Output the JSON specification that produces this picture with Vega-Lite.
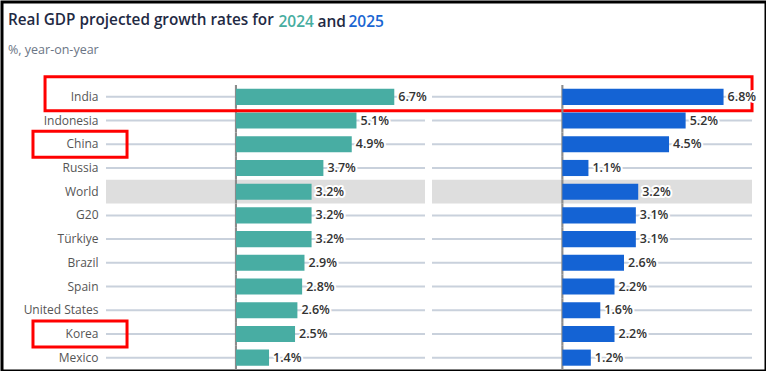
{
  "$schema": "https://vega.github.io/schema/vega-lite/v6.json",
  "autosize": "none",
  "padding": {"left": 2, "top": 2, "right": 0, "bottom": 0},
  "width": 764,
  "height": 369,
  "background": "white",
  "config": {
    "font": "Open Sans",
    "view": {"stroke": "black", "strokeWidth": 3}
  },
  "title": {
    "text": "Real GDP projected growth rates for",
    "subtitle": "%, year-on-year",
    "anchor": "start",
    "frame": "group",
    "offset": -54,
    "dx": 6,
    "font": "Open Sans",
    "fontSize": 15.3,
    "fontWeight": 600,
    "color": "#1f2a44",
    "subtitleFont": "Open Sans",
    "subtitleFontSize": 12.5,
    "subtitleColor": "#6b7585",
    "subtitlePadding": 15.5
  },
  "data": {
    "values": [
      {"country": "India", "y2024": 6.7, "y2025": 6.8},
      {"country": "Indonesia", "y2024": 5.1, "y2025": 5.2},
      {"country": "China", "y2024": 4.9, "y2025": 4.5},
      {"country": "Russia", "y2024": 3.7, "y2025": 1.1},
      {"country": "World", "y2024": 3.2, "y2025": 3.2},
      {"country": "G20", "y2024": 3.2, "y2025": 3.1},
      {"country": "Türkiye", "y2024": 3.2, "y2025": 3.1},
      {"country": "Brazil", "y2024": 2.9, "y2025": 2.6},
      {"country": "Spain", "y2024": 2.8, "y2025": 2.2},
      {"country": "United States", "y2024": 2.6, "y2025": 1.6},
      {"country": "Korea", "y2024": 2.5, "y2025": 2.2},
      {"country": "Mexico", "y2024": 1.4, "y2025": 1.2}
    ]
  },
  "encoding": {
    "y": {
      "field": "country",
      "type": "nominal",
      "sort": ["India", "Indonesia", "China", "Russia", "World", "G20", "Türkiye", "Brazil", "Spain", "United States", "Korea", "Mexico"],
      "scale": {"range": [83, 367.5], "paddingInner": 0, "paddingOuter": 0},
      "axis": {
        "orient": "left",
        "offset": -104,
        "domain": false,
        "ticks": false,
        "grid": false,
        "labelPadding": 8,
        "labelFontSize": 12,
        "labelColor": "#555555",
        "labelFont": "Open Sans",
        "title": "and",
        "titleAngle": 0,
        "titleAlign": "left",
        "titleBaseline": "alphabetic",
        "titleX": 211,
        "titleY": 24.7,
        "titleFont": "Open Sans",
        "titleFontSize": 15.5,
        "titleFontWeight": 600,
        "titleColor": "#1f2a44"
      }
    }
  },
  "layer": [
    {
      "layer": [
        {
          "transform": [{"filter": "datum.country !== 'World'"}],
          "mark": {"type": "rule", "color": "#c9d1dc", "strokeWidth": 2},
          "encoding": {
            "x": {"datum": -5.5, "type": "quantitative", "scale": {"domain": [-5.5, 8], "range": [104, 423], "nice": false, "zero": false},
              "axis": {"orient": "bottom", "domain": false, "ticks": false, "labels": false, "grid": false, "title": "2024", "titleAlign": "left", "titleBaseline": "alphabetic", "titleAnchor": null, "titleX": 276, "titleY": -344.3, "titleFont": "Open Sans", "titleFontSize": 15.5, "titleFontWeight": 600, "titleColor": "#46ad9f"}},
            "x2": {"datum": 8}
          }
        },
        {
          "transform": [{"filter": "datum.country === 'World'"}],
          "mark": {"type": "bar", "color": "#dedede"},
          "encoding": {
            "x": {"datum": -5.5, "type": "quantitative", "scale": {"domain": [-5.5, 8], "range": [104, 423], "nice": false, "zero": false},
              "axis": {"orient": "bottom", "domain": false, "ticks": false, "labels": false, "grid": false, "title": "2024", "titleAlign": "left", "titleBaseline": "alphabetic", "titleAnchor": null, "titleX": 276, "titleY": -344.3, "titleFont": "Open Sans", "titleFontSize": 15.5, "titleFontWeight": 600, "titleColor": "#46ad9f"}},
            "x2": {"datum": 8}
          }
        },
        {
          "mark": {"type": "bar", "color": "#8c8c8c"},
          "encoding": {
            "x": {"datum": -0.045, "type": "quantitative", "scale": {"domain": [-5.5, 8], "range": [104, 423], "nice": false, "zero": false},
              "axis": {"orient": "bottom", "domain": false, "ticks": false, "labels": false, "grid": false, "title": "2024", "titleAlign": "left", "titleBaseline": "alphabetic", "titleAnchor": null, "titleX": 276, "titleY": -344.3, "titleFont": "Open Sans", "titleFontSize": 15.5, "titleFontWeight": 600, "titleColor": "#46ad9f"}},
            "x2": {"datum": 0.045}
          }
        },
        {
          "mark": {"type": "bar", "color": "#48ada3", "height": {"band": 0.68}},
          "encoding": {
            "x": {"field": "y2024", "type": "quantitative", "scale": {"domain": [-5.5, 8], "range": [104, 423], "nice": false, "zero": false},
              "axis": {"orient": "bottom", "domain": false, "ticks": false, "labels": false, "grid": false, "title": "2024", "titleAlign": "left", "titleBaseline": "alphabetic", "titleAnchor": null, "titleX": 276, "titleY": -344.3, "titleFont": "Open Sans", "titleFontSize": 15.5, "titleFontWeight": 600, "titleColor": "#46ad9f"}},
            "x2": {"datum": 0}
          }
        },
        {
          "transform": [{"calculate": "format(datum.y2024, '.1f') + '%'", "as": "label"}],
          "mark": {"type": "text", "align": "left", "baseline": "middle", "dx": 4, "fontSize": 12.5, "fontWeight": 600, "color": "white", "stroke": "white", "strokeWidth": 4, "strokeJoin": "round"},
          "encoding": {
            "x": {"field": "y2024", "type": "quantitative", "scale": {"domain": [-5.5, 8], "range": [104, 423], "nice": false, "zero": false},
              "axis": {"orient": "bottom", "domain": false, "ticks": false, "labels": false, "grid": false, "title": "2024", "titleAlign": "left", "titleBaseline": "alphabetic", "titleAnchor": null, "titleX": 276, "titleY": -344.3, "titleFont": "Open Sans", "titleFontSize": 15.5, "titleFontWeight": 600, "titleColor": "#46ad9f"}},
            "text": {"field": "label"}
          }
        },
        {
          "transform": [{"calculate": "format(datum.y2024, '.1f') + '%'", "as": "label"}],
          "mark": {"type": "text", "align": "left", "baseline": "middle", "dx": 4, "fontSize": 12.5, "fontWeight": 600, "color": "#333333"},
          "encoding": {
            "x": {"field": "y2024", "type": "quantitative", "scale": {"domain": [-5.5, 8], "range": [104, 423], "nice": false, "zero": false},
              "axis": {"orient": "bottom", "domain": false, "ticks": false, "labels": false, "grid": false, "title": "2024", "titleAlign": "left", "titleBaseline": "alphabetic", "titleAnchor": null, "titleX": 276, "titleY": -344.3, "titleFont": "Open Sans", "titleFontSize": 15.5, "titleFontWeight": 600, "titleColor": "#46ad9f"}},
            "text": {"field": "label"}
          }
        },
        {
          "transform": [{"filter": "datum.country === 'India'"}],
          "mark": {"type": "bar", "filled": false, "color": "#ff0000", "strokeWidth": 3, "height": 34, "yOffset": -3},
          "encoding": {
            "x": {"datum": -8.08, "type": "quantitative", "scale": {"domain": [-5.5, 8], "range": [104, 423], "nice": false, "zero": false},
              "axis": {"orient": "bottom", "domain": false, "ticks": false, "labels": false, "grid": false, "title": "2024", "titleAlign": "left", "titleBaseline": "alphabetic", "titleAnchor": null, "titleX": 276, "titleY": -344.3, "titleFont": "Open Sans", "titleFontSize": 15.5, "titleFontWeight": 600, "titleColor": "#46ad9f"}},
            "x2": {"datum": 21.84}
          }
        },
        {
          "transform": [{"filter": "datum.country === 'China' || datum.country === 'Korea'"}],
          "mark": {"type": "bar", "filled": false, "color": "#ff0000", "strokeWidth": 3, "height": 26},
          "encoding": {
            "x": {"datum": -8.59, "type": "quantitative", "scale": {"domain": [-5.5, 8], "range": [104, 423], "nice": false, "zero": false},
              "axis": {"orient": "bottom", "domain": false, "ticks": false, "labels": false, "grid": false, "title": "2024", "titleAlign": "left", "titleBaseline": "alphabetic", "titleAnchor": null, "titleX": 276, "titleY": -344.3, "titleFont": "Open Sans", "titleFontSize": 15.5, "titleFontWeight": 600, "titleColor": "#46ad9f"}},
            "x2": {"datum": -4.61}
          }
        }
      ]
    },
    {
      "layer": [
        {
          "transform": [{"filter": "datum.country !== 'World'"}],
          "mark": {"type": "rule", "color": "#c9d1dc", "strokeWidth": 2},
          "encoding": {
            "x": {"datum": -5.5, "type": "quantitative", "scale": {"domain": [-5.5, 8], "range": [430, 750], "nice": false, "zero": false},
              "axis": {"orient": "bottom", "domain": false, "ticks": false, "labels": false, "grid": false, "title": "2025", "titleAlign": "left", "titleBaseline": "alphabetic", "titleAnchor": null, "titleX": 346, "titleY": -344.3, "titleFont": "Open Sans", "titleFontSize": 15.5, "titleFontWeight": 600, "titleColor": "#1a66d2"}},
            "x2": {"datum": 8}
          }
        },
        {
          "transform": [{"filter": "datum.country === 'World'"}],
          "mark": {"type": "bar", "color": "#dedede"},
          "encoding": {
            "x": {"datum": -5.5, "type": "quantitative", "scale": {"domain": [-5.5, 8], "range": [430, 750], "nice": false, "zero": false},
              "axis": {"orient": "bottom", "domain": false, "ticks": false, "labels": false, "grid": false, "title": "2025", "titleAlign": "left", "titleBaseline": "alphabetic", "titleAnchor": null, "titleX": 346, "titleY": -344.3, "titleFont": "Open Sans", "titleFontSize": 15.5, "titleFontWeight": 600, "titleColor": "#1a66d2"}},
            "x2": {"datum": 8}
          }
        },
        {
          "mark": {"type": "bar", "color": "#8c8c8c"},
          "encoding": {
            "x": {"datum": -0.045, "type": "quantitative", "scale": {"domain": [-5.5, 8], "range": [430, 750], "nice": false, "zero": false},
              "axis": {"orient": "bottom", "domain": false, "ticks": false, "labels": false, "grid": false, "title": "2025", "titleAlign": "left", "titleBaseline": "alphabetic", "titleAnchor": null, "titleX": 346, "titleY": -344.3, "titleFont": "Open Sans", "titleFontSize": 15.5, "titleFontWeight": 600, "titleColor": "#1a66d2"}},
            "x2": {"datum": 0.045}
          }
        },
        {
          "mark": {"type": "bar", "color": "#1463d4", "height": {"band": 0.68}},
          "encoding": {
            "x": {"field": "y2025", "type": "quantitative", "scale": {"domain": [-5.5, 8], "range": [430, 750], "nice": false, "zero": false},
              "axis": {"orient": "bottom", "domain": false, "ticks": false, "labels": false, "grid": false, "title": "2025", "titleAlign": "left", "titleBaseline": "alphabetic", "titleAnchor": null, "titleX": 346, "titleY": -344.3, "titleFont": "Open Sans", "titleFontSize": 15.5, "titleFontWeight": 600, "titleColor": "#1a66d2"}},
            "x2": {"datum": 0}
          }
        },
        {
          "transform": [{"calculate": "format(datum.y2025, '.1f') + '%'", "as": "label"}],
          "mark": {"type": "text", "align": "left", "baseline": "middle", "dx": 4, "fontSize": 12.5, "fontWeight": 600, "color": "white", "stroke": "white", "strokeWidth": 4, "strokeJoin": "round"},
          "encoding": {
            "x": {"field": "y2025", "type": "quantitative", "scale": {"domain": [-5.5, 8], "range": [430, 750], "nice": false, "zero": false},
              "axis": {"orient": "bottom", "domain": false, "ticks": false, "labels": false, "grid": false, "title": "2025", "titleAlign": "left", "titleBaseline": "alphabetic", "titleAnchor": null, "titleX": 346, "titleY": -344.3, "titleFont": "Open Sans", "titleFontSize": 15.5, "titleFontWeight": 600, "titleColor": "#1a66d2"}},
            "text": {"field": "label"}
          }
        },
        {
          "transform": [{"calculate": "format(datum.y2025, '.1f') + '%'", "as": "label"}],
          "mark": {"type": "text", "align": "left", "baseline": "middle", "dx": 4, "fontSize": 12.5, "fontWeight": 600, "color": "#333333"},
          "encoding": {
            "x": {"field": "y2025", "type": "quantitative", "scale": {"domain": [-5.5, 8], "range": [430, 750], "nice": false, "zero": false},
              "axis": {"orient": "bottom", "domain": false, "ticks": false, "labels": false, "grid": false, "title": "2025", "titleAlign": "left", "titleBaseline": "alphabetic", "titleAnchor": null, "titleX": 346, "titleY": -344.3, "titleFont": "Open Sans", "titleFontSize": 15.5, "titleFontWeight": 600, "titleColor": "#1a66d2"}},
            "text": {"field": "label"}
          }
        }
      ]
    }
  ],
  "resolve": {"scale": {"x": "independent"}, "axis": {"x": "independent"}}
}
